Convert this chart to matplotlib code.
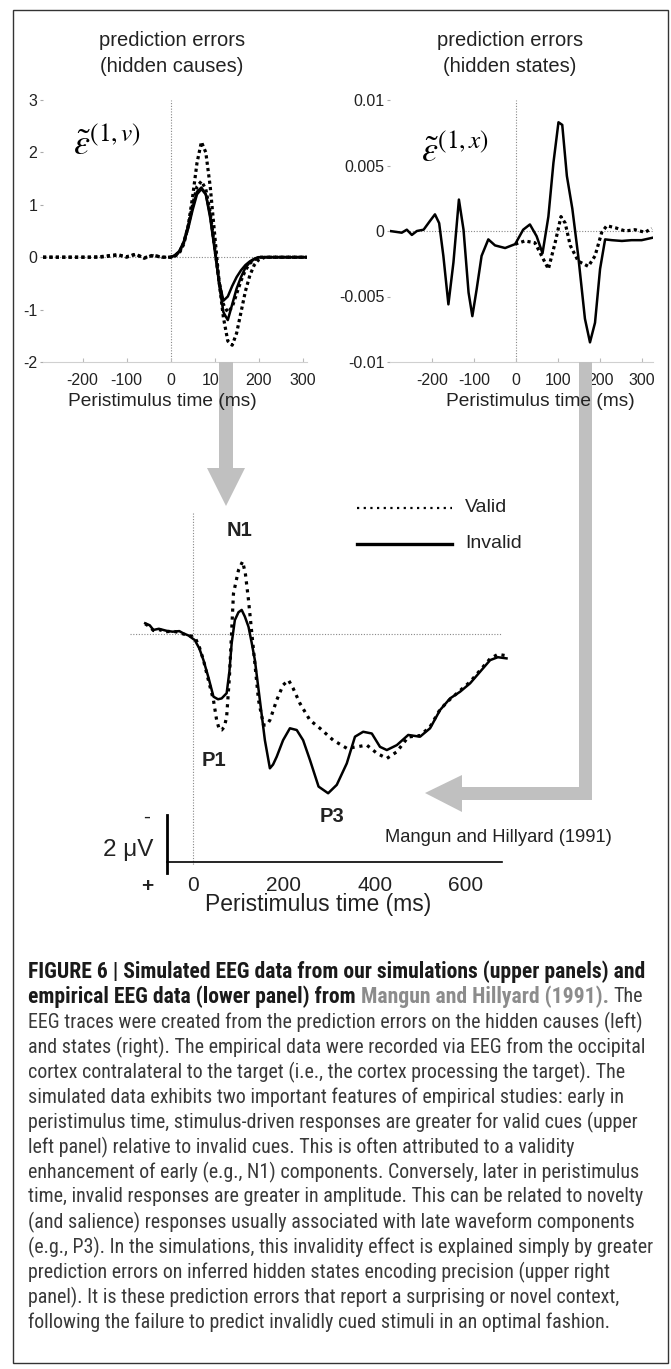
import matplotlib
matplotlib.use("Agg")
import matplotlib.pyplot as plt
from matplotlib import font_manager
from matplotlib.patches import Polygon, Rectangle
from matplotlib.lines import Line2D

# ---- data ----
# upper left: prediction errors on hidden causes
t_causes = [-290, -260, -230, -200, -180, -160, -140, -120, -100, -80, -60, -40, -20,
            0, 10, 20, 30, 40, 50, 60, 70, 80, 90, 100, 110, 120, 130, 140, 150,
            160, 170, 180, 190, 200, 215, 240, 270, 310]
causes_valid_a = [0, 0, 0, 0, 0, 0.01, 0.03, 0.05, 0.0, 0.06, -0.02, 0.04, 0.0,
                  0.0, 0.02, 0.08, 0.25, 0.6, 1.15, 1.8, 2.2, 2.0, 1.35, 0.45, -0.45, -1.15, -1.6, -1.68, -1.45,
                  -1.05, -0.65, -0.35, -0.15, -0.05, 0, 0, 0, 0]
causes_valid_b = [0, 0, 0, 0, 0, 0.0, 0.02, 0.04, 0.01, 0.05, -0.01, 0.03, 0.0,
                  0.0, 0.03, 0.1, 0.28, 0.6, 1.0, 1.35, 1.45, 1.3, 0.85, 0.2, -0.45, -0.9, -1.05, -0.95, -0.7,
                  -0.45, -0.25, -0.12, -0.05, 0.0, 0, 0, 0, 0]
t_causes_inv = [0, 10, 20, 30, 40, 50, 60, 70, 80, 90, 100, 110, 120, 130, 140, 150,
                160, 170, 180, 190, 200, 215, 240, 270, 310]
causes_invalid_a = [0.0, 0.04, 0.12, 0.3, 0.6, 0.95, 1.25, 1.33, 1.2, 0.75, 0.15, -0.45, -0.83, -0.75, -0.55, -0.38,
                    -0.25, -0.15, -0.08, -0.03, 0.0, 0, 0, 0, 0]
causes_invalid_b = [0.0, 0.03, 0.1, 0.28, 0.55, 0.9, 1.2, 1.3, 1.2, 0.8, 0.2, -0.5, -1.05, -1.2, -0.9, -0.6,
                    -0.38, -0.2, -0.1, -0.04, 0.0, 0, 0, 0, 0]

# upper right: prediction errors on hidden states
t_states_inv = [-300, -272, -260, -248, -236, -220, -205, -193, -183, -173, -161, -149, -136, -125,
                -113, -104, -94, -82, -66, -50, -26, -2, 17, 33, 49, 63, 77, 89, 101, 110, 121,
                134, 148, 164, 176, 188, 200, 212, 228, 252, 275, 299, 327]
states_invalid = [0.0, -0.00013, 0.0001, -0.0003, 0.0, 0.0001, 0.00076, 0.00127, 0.0006, -0.0019,
                  -0.0056, -0.0024, 0.0024, 0.0001, -0.0047, -0.0065, -0.0045, -0.0019, -0.00064,
                  -0.0011, -0.0013, -0.001, 0.0001, 0.0005, -0.0004, -0.0017, 0.0011, 0.0052, 0.0083,
                  0.0081, 0.0042, 0.0017, -0.0019, -0.0067, -0.0085, -0.007, -0.0029, -0.00064,
                  -0.0007, -0.00076, -0.0007, -0.0007, -0.0005]
t_states_val = [-2, 21, 45, 61, 77, 93, 107, 117, 129, 148, 172, 188, 204, 216, 236, 260, 283, 307, 323]
states_valid = [-0.001, -0.00076, -0.0009, -0.0019, -0.0029, -0.0009, 0.0011, 0.0006, -0.0011, -0.0023,
                -0.0027, -0.0019, -0.0001, 0.0004, 0.00025, 0.0, 0.0001, -0.0001, 0.0002]

# lower: empirical ERP (Mangun and Hillyard 1991), microvolts, positive drawn downward
t_erp_inv = [-105, -95, -87, -75, -58, -45, -30, -21, -10, 4, 14, 23, 34, 45, 55, 63, 74, 80, 85, 92,
             100, 107, 114, 122, 129, 136, 147, 158, 169, 176, 184, 198, 213, 228, 242, 257, 276, 297,
             316, 338, 356, 374, 393, 411, 426, 448, 473, 499, 521, 543, 565, 587, 609, 631, 653, 670, 689]
erp_invalid = [-0.37, -0.3, -0.14, -0.18, -0.11, -0.08, -0.1, -0.02, 0.05, 0.21, 0.5, 0.9, 1.5, 2.16,
               2.25, 2.22, 2.04, 1.3, 0.32, -0.48, -0.75, -0.83, -0.6, -0.25, 0.3, 0.9, 2.28, 3.66, 4.63,
               4.5, 4.23, 3.66, 3.25, 3.31, 3.66, 4.34, 5.26, 5.49, 5.2, 4.46, 3.54, 3.37, 3.43, 3.89,
               4.0, 3.83, 3.48, 3.54, 3.25, 2.62, 2.22, 1.99, 1.7, 1.3, 0.9, 0.8, 0.84]
t_erp_val = [-105, -95, -87, -75, -58, -45, -30, -21, -10, 4, 14, 23, 34, 45, 52, 58, 63, 69, 74, 80,
             89, 100, 109, 115, 122, 133, 144, 155, 162, 169, 184, 198, 210, 220, 235, 257, 279, 308,
             338, 360, 382, 404, 426, 448, 473, 499, 521, 543, 565, 587, 609, 631, 653, 670, 689]
erp_valid = [-0.35, -0.25, -0.12, -0.15, -0.08, -0.1, -0.05, 0.0, 0.05, 0.1, 0.45, 0.9, 1.6, 2.28,
             2.97, 3.3, 3.31, 3.2, 2.85, 1.5, -1.4, -2.2, -2.5, -2.1, -1.17, 0.55, 2.28, 3.14, 3.14,
             2.97, 2.28, 1.76, 1.59, 1.87, 2.39, 2.97, 3.25, 3.66, 3.94, 3.89, 3.83, 4.11, 4.29, 4.06,
             3.55, 3.5, 3.2, 2.6, 2.25, 1.95, 1.65, 1.25, 0.85, 0.7, 0.75]

caption = [
    [("FIGURE 6 | Simulated EEG data from our simulations (upper panels) and", "bold", "#1a1a1a")],
    [("empirical EEG data (lower panel) from", "bold", "#1a1a1a"),
     ("Mangun and Hillyard (1991).", "bold", "#8c8c8c"), ("The", "normal", "#3a3a3a")],
    "EEG traces were created from the prediction errors on the hidden causes (left)",
    "and states (right). The empirical data were recorded via EEG from the occipital",
    "cortex contralateral to the target (i.e., the cortex processing the target). The",
    "simulated data exhibits two important features of empirical studies: early in",
    "peristimulus time, stimulus-driven responses are greater for valid cues (upper",
    "left panel) relative to invalid cues. This is often attributed to a validity",
    "enhancement of early (e.g., N1) components. Conversely, later in peristimulus",
    "time, invalid responses are greater in amplitude. This can be related to novelty",
    "(and salience) responses usually associated with late waveform components",
    "(e.g., P3). In the simulations, this invalidity effect is explained simply by greater",
    "prediction errors on inferred hidden states encoding precision (upper right",
    "panel). It is these prediction errors that report a surprising or novel context,",
    "following the failure to predict invalidly cued stimuli in an optimal fashion.",
]


def pick_font(names):
    for n in names:
        try:
            path = font_manager.findfont(font_manager.FontProperties(family=n), fallback_to_default=False)
        except ValueError:
            continue
        if font_manager.FontProperties(fname=path).get_name().lower() == n.lower():
            return n
    return "DejaVu Sans"


BASE = pick_font(["Liberation Sans", "Arial", "DejaVu Sans"])
NARROW = pick_font(["Liberation Sans Narrow", "Arial Narrow", "Roboto Condensed",
                    "Noto Sans Condensed", "Open Sans Condensed", BASE])
plt.rcParams["font.family"] = [BASE, "DejaVu Sans"]
plt.rcParams["mathtext.fontset"] = "stix"

W, H = 671, 1369
fig = plt.figure(figsize=(W / 100, H / 100), dpi=100)


def fx(px):
    return px / W


def fy(py):
    return 1 - py / H


def rect(l, t, r, b):
    return [fx(l), fy(b), (r - l) / W, (b - t) / H]


TXT = "#222222"
GREY = "#c0c0c0"


def style_top(ax, xlim, ylim, yticks, ylabels):
    ax.set_xlim(*xlim)
    ax.set_ylim(*ylim)
    for s in ["top", "right", "left"]:
        ax.spines[s].set_visible(False)
    ax.spines["bottom"].set_color("#d0d0d0")
    ax.spines["bottom"].set_linewidth(0.8)
    ax.set_xticks([-200, -100, 0, 100, 200, 300])
    ax.set_xticklabels(["-200", "-100", "0", "100", "200", "300"])
    ax.set_yticks(yticks)
    ax.set_yticklabels(ylabels)
    ax.tick_params(axis="x", direction="in", length=3, color="#bbbbbb", pad=8,
                   labelsize=11.5, labelcolor=TXT)
    ax.tick_params(axis="y", direction="out", length=2, color="#aaaaaa", pad=2,
                   labelsize=11.5, labelcolor=TXT)
    ax.axhline(0, color="#888888", lw=0.8, ls=(0, (1, 1.5)), zorder=1)
    ax.axvline(0, color="#888888", lw=0.8, ls=(0, (1, 1.5)), zorder=1)
    ax.patch.set_alpha(0)


# upper left panel
ax1 = fig.add_axes(rect(43, 100, 307, 362))
style_top(ax1, (-290, 310), (-2, 3), [-2, -1, 0, 1, 2, 3], ["-2", "-1", "0", "1", "2", "3"])
ax1.plot(t_causes_inv, causes_invalid_a, color="black", lw=1.8, zorder=3)
ax1.plot(t_causes_inv, causes_invalid_b, color="black", lw=1.8, zorder=3)
ax1.plot(t_causes, causes_valid_a, color="black", lw=2.3, ls=(0, (1, 1)), zorder=4)
ax1.plot(t_causes, causes_valid_b, color="black", lw=2.3, ls=(0, (1, 1)), zorder=4)

# upper right panel
ax2 = fig.add_axes(rect(390, 100, 653, 362))
style_top(ax2, (-300, 326), (-0.01, 0.01), [-0.01, -0.005, 0, 0.005, 0.01],
          ["-0.01", "-0.005", "0", "0.005", "0.01"])
ax2.plot(t_states_inv, states_invalid, color="black", lw=1.8, zorder=3)
ax2.plot(t_states_val, states_valid, color="black", lw=2.3, ls=(0, (1, 1)), zorder=4)

for cx, title in [(172, "(hidden causes)"), (510, "(hidden states)")]:
    fig.text(fx(cx), fy(40), "prediction errors", ha="center", va="center", fontsize=14.5, color=TXT)
    fig.text(fx(cx), fy(67), title, ha="center", va="center", fontsize=14.5, color=TXT)
fig.text(fx(162), fy(401), "Peristimulus time (ms)", ha="center", va="center", fontsize=13.8, color=TXT)
fig.text(fx(540), fy(401), "Peristimulus time (ms)", ha="center", va="center", fontsize=13.8, color=TXT)
fig.text(fx(73), fy(154), r"$\tilde{\varepsilon}^{(1,v)}$", fontsize=26, va="baseline", ha="left")
fig.text(fx(421), fy(161), r"$\tilde{\varepsilon}^{(1,x)}$", fontsize=26, va="baseline", ha="left")

# lower panel (negative up)
ax3 = fig.add_axes(rect(167, 500, 502, 862))
ax3.set_xlim(-57.1, 679.1)
ax3.set_ylim(7.86, -4.62)
for s in ["top", "right", "left"]:
    ax3.spines[s].set_visible(False)
ax3.spines["bottom"].set_color("black")
ax3.spines["bottom"].set_linewidth(1.2)
ax3.set_yticks([])
ax3.set_xticks([0, 200, 400, 600])
ax3.set_xticklabels(["0", "200", "400", "600"])
ax3.tick_params(axis="x", length=0, pad=10, labelsize=15, labelcolor=TXT)
ax3.patch.set_alpha(0)
ax3.plot([-138, 679], [0, 0], color="#888888", lw=0.8, ls=(0, (1, 1.5)), clip_on=False)
ax3.plot([0, 0], [-4.17, 7.97], color="#888888", lw=0.8, ls=(0, (1, 1.5)), clip_on=False)
ax3.plot([-57.1, -57.1], [6.24, 8.24], color="black", lw=2.0, clip_on=False)
ax3.plot(t_erp_inv, erp_invalid, color="black", lw=1.8, clip_on=False, zorder=3)
ax3.plot(t_erp_val, erp_valid, color="black", lw=2.3, ls=(0, (1, 1.5)), clip_on=False, zorder=4)
fig.text(fx(318), fy(904), "Peristimulus time (ms)", ha="center", va="center", fontsize=16.5, color=TXT)

fig.text(fx(147), fy(817), "-", ha="center", va="center", fontsize=15, color=TXT)
fig.text(fx(147), fy(886), "+", ha="center", va="center", fontsize=15, color=TXT, fontweight="bold")
fig.text(fx(153), fy(850), "2 \u03bcV", ha="right", va="center", fontsize=17.5, color=TXT)

for lbl, px, py in [("N1", 240, 531), ("P1", 214, 760), ("P3", 332, 817)]:
    fig.text(fx(px), fy(py), lbl, ha="center", va="center", fontsize=14.5, fontweight="bold", color=TXT)
fig.text(fx(385), fy(838), "Mangun and Hillyard (1991)", ha="left", va="center", fontsize=13.2, color=TXT)

# legend
fig.add_artist(Line2D([fx(357), fx(452)], [fy(508), fy(508)], color="black", lw=1.6, ls=(0, (1, 2))))
fig.add_artist(Line2D([fx(357), fx(452)], [fy(544), fy(544)], color="black", lw=2.4))
fig.text(fx(465), fy(508), "Valid", ha="left", va="center", fontsize=14, color=TXT)
fig.text(fx(465), fy(544), "Invalid", ha="left", va="center", fontsize=14, color=TXT)

# grey arrows linking panels
arrow1 = [(219, 362), (233, 362), (233, 468), (245, 468), (226, 506), (207, 468), (219, 468)]
arrow2 = [(579, 362), (592, 362), (592, 800), (462, 800), (462, 812), (425, 793), (462, 775),
          (462, 787), (579, 787)]
for pts in (arrow1, arrow2):
    fig.add_artist(Polygon([(fx(x), fy(y)) for x, y in pts], closed=True, transform=fig.transFigure,
                           facecolor=GREY, edgecolor="none", zorder=2))

# frame
fig.add_artist(Rectangle((fx(13), fy(1363)), (668 - 13) / W, (1363 - 10) / H, transform=fig.transFigure,
                         fill=False, edgecolor="#333333", lw=1.0))

# caption
renderer = fig.canvas.get_renderer()


def text_width(s, size, weight="normal"):
    t = fig.text(0, 0, s, fontsize=size, fontweight=weight, family=[NARROW, "DejaVu Sans"])
    w = t.get_window_extent(renderer).width
    t.remove()
    return w


cap_size = 10 * 622 / text_width(caption[11], 10)
# bold lead-in set to the same measure as the body text
bold_size = cap_size * text_width(caption[2], cap_size) / text_width(caption[0][0][0], cap_size, "bold")
bold_size = min(bold_size, cap_size * 1.08)
for i, line in enumerate(caption):
    y = fy(972 + 25 * i)
    segs = [(line, "normal", "#3a3a3a")] if isinstance(line, str) else line
    x = 28
    for s, weight, color in segs:
        size = bold_size if weight == "bold" else cap_size
        t = fig.text(fx(x), y, s, ha="left", va="center", fontsize=size, fontweight=weight,
                     color=color, family=[NARROW, "DejaVu Sans"])
        x += t.get_window_extent(renderer).width + text_width("x x", size) - text_width("xx", size)

fig.savefig("out.png", dpi=100)
